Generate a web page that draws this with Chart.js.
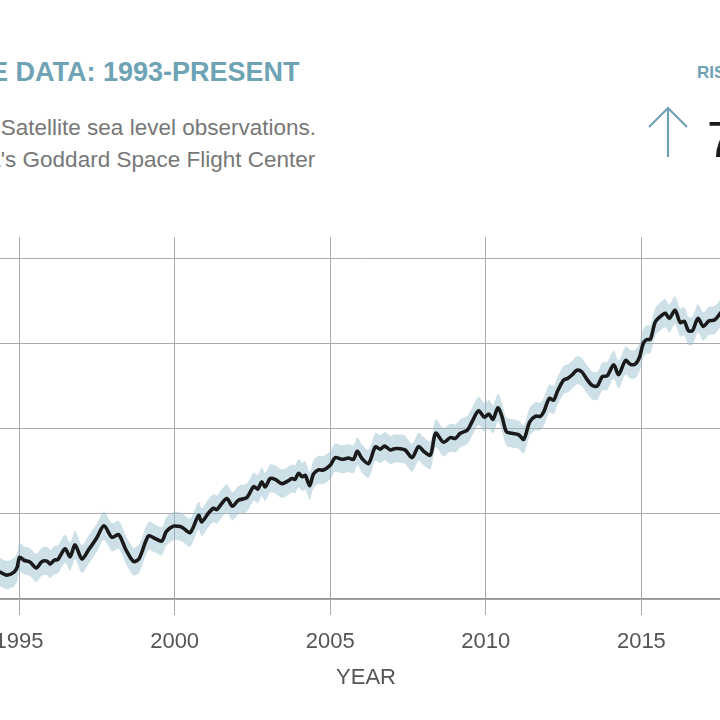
<!DOCTYPE html>
<html>
<head>
<meta charset="utf-8">
<script src="https://cdn.jsdelivr.net/npm/chart.js@4.4.1/dist/chart.umd.min.js"></script>
<style>
  html, body { margin: 0; padding: 0; background: #fff; }
  body { width: 720px; height: 720px; overflow: hidden; position: relative; font-family: "Liberation Sans", Arial, sans-serif; }
  #wrap { position: absolute; left: -200px; top: 0; width: 1040px; height: 720px; }
  .txt { position: absolute; white-space: nowrap; }
  .title { left: -137px; top: 59px; font-size: 27px; line-height: 27px; font-weight: bold; color: #6ea2b5; }
  .sub { left: -133px; font-size: 22.5px; line-height: 22px; color: #777; }
  .rate { left: 697px; top: 64px; font-size: 17px; line-height: 17px; font-weight: bold; color: #6ea2b5; }
  .num { left: 707px; top: 115px; font-size: 50px; line-height: 50px; color: #1a1a1a; }
  svg { position: absolute; left: 640px; top: 100px; }
</style>
</head>
<body>
<div class="txt title">SATELLITE DATA: 1993-PRESENT</div>
<div class="txt sub" style="top:117px">Data source: Satellite sea level observations.</div>
<div class="txt sub" style="top:149px">Credit: NASA's Goddard Space Flight Center</div>
<div class="txt rate">RISE SINCE 1993</div>
<svg width="60" height="62"><path d="M28 8 L28 57 M9 27 L28 8 L47 27" stroke="#6ea2b5" stroke-width="2.2" fill="none"/></svg>
<div class="txt num">74</div>
<div id="wrap"><canvas id="chart"></canvas></div>
<script>
// ── Data ─────────────────────────────────────────────────────────
const years = [
  1993.01, 1993.26, 1993.59, 1993.91, 1994.13, 1994.39, 1994.61, 1994.84, 1994.94, 1995.02,
  1995.16, 1995.35, 1995.55, 1995.74, 1995.90, 1996.00, 1996.13, 1996.25, 1996.48, 1996.64,
  1996.80, 1997.02, 1997.23, 1997.50, 1997.73, 1997.98, 1998.20, 1998.44, 1998.68, 1998.86,
  1999.16, 1999.37, 1999.59, 1999.73, 1999.96, 2000.18, 2000.28, 2000.50, 2000.77, 2000.87,
  2001.09, 2001.25, 2001.36, 2001.52, 2001.68, 2001.86, 2002.05, 2002.32, 2002.54, 2002.67,
  2002.80, 2002.91, 2003.07, 2003.23, 2003.45, 2003.66, 2003.77, 2003.87, 2003.98, 2004.10,
  2004.20, 2004.34, 2004.46, 2004.62, 2004.78, 2005.00, 2005.16, 2005.38, 2005.59, 2005.75,
  2005.87, 2006.02, 2006.23, 2006.45, 2006.61, 2006.75, 2006.93, 2007.06, 2007.25, 2007.41,
  2007.63, 2007.84, 2008.00, 2008.22, 2008.39, 2008.64, 2008.86, 2009.02, 2009.18, 2009.41,
  2009.57, 2009.77, 2009.95, 2010.10, 2010.23, 2010.39, 2010.52, 2010.66, 2010.84, 2011.05,
  2011.22, 2011.41, 2011.59, 2011.75, 2011.86, 2012.04, 2012.18, 2012.31, 2012.50, 2012.63,
  2012.77, 2012.93, 2013.09, 2013.23, 2013.41, 2013.58, 2013.74, 2013.90, 2014.11, 2014.27,
  2014.49, 2014.65, 2014.81, 2014.94, 2015.05, 2015.16, 2015.29, 2015.45, 2015.67, 2015.77,
  2015.90, 2016.08, 2016.25, 2016.38, 2016.51, 2016.64, 2016.82, 2016.99, 2017.17, 2017.35,
  2017.54, 2017.75, 2017.95, 2018.15, 2018.40, 2018.65, 2018.90, 2019.10, 2019.30
];
const seaLevel = [
  -14.6, -13.7, -15.1, -14.4, -13.2, -13.7, -14.4, -13.7, -12.5, -10.2,
  -10.9, -11.3, -12.7, -11.2, -11.1, -11.8, -10.9, -10.7, -8.2, -10.1,
  -7.3, -10.6, -8.5, -5.6, -2.8, -5.5, -4.9, -8.5, -11.2, -10.5,
  -5.2, -5.8, -6.4, -4.2, -2.9, -3.0, -3.4, -4.4, -0.4, -1.9,
  0.2, 1.3, 1.0, 2.5, 3.6, 1.8, 3.2, 3.8, 6.4, 5.8,
  7.5, 6.3, 8.3, 8.1, 7.1, 7.8, 8.3, 8.1, 9.5, 8.7,
  9.0, 6.6, 9.3, 10.3, 10.3, 11.4, 13.2, 12.8, 13.1, 12.8,
  14.7, 13.0, 11.8, 15.7, 15.2, 15.9, 15.0, 15.3, 15.3, 15.0,
  13.2, 15.8, 14.7, 13.8, 18.9, 16.8, 17.9, 17.7, 18.9, 19.7,
  21.8, 24.2, 22.7, 23.4, 22.2, 24.9, 22.8, 19.3, 18.9, 18.6,
  17.5, 21.6, 22.9, 22.9, 23.9, 27.1, 26.7, 28.9, 31.4, 31.8,
  32.6, 33.7, 33.3, 31.8, 30.2, 30.0, 32.2, 32.4, 35.0, 32.7,
  36.0, 35.1, 35.2, 36.8, 39.8, 40.9, 41.0, 45.1, 46.7, 47.1,
  45.9, 47.8, 44.9, 45.2, 43.0, 43.0, 45.9, 44.0, 45.3, 45.5,
  47.1, 49.0, 50.5, 49.5, 51.5, 53.0, 52.0, 54.0, 55.0
];
const spread = 3.3;          // half-width of the uncertainty band (mm)
const xTicks = [1995, 2000, 2005, 2010, 2015];
const yTicks = [-20, 0, 20, 40, 60];

const FONT = '"Liberation Sans", Arial, sans-serif';

const pts = (off) => years.map((x, i) => ({ x, y: seaLevel[i] + off }));

new Chart(document.getElementById('chart'), {
  type: 'line',
  data: {
    datasets: [
      // lower band edge, upper band edge (filled to lower), then the line on top
      { data: pts(-spread), borderWidth: 0, pointRadius: 0, fill: false, tension: 0.3, order: 2 },
      { data: pts(spread), borderWidth: 0, pointRadius: 0, fill: '-1', backgroundColor: 'rgba(150,190,205,0.48)', tension: 0.3, order: 1 },
      { data: pts(0), borderColor: '#1a1a1a', borderWidth: 3.6, pointRadius: 0, fill: false, tension: 0.3, order: 0 }
    ]
  },
  options: {
    responsive: true,
    maintainAspectRatio: false,
    animation: false,
    layout: { padding: { top: 237, left: 0, right: 49.25, bottom: 0 } },
    plugins: { legend: { display: false }, tooltip: { enabled: false } },
    scales: {
      x: {
        type: 'linear', min: 1992.5, max: 2019.8,
        afterBuildTicks: s => { s.ticks = xTicks.map(v => ({ value: v })); },
        afterFit: s => { s.height = 121; },
        ticks: { callback: v => String(v), color: '#555', padding: 14, maxRotation: 0, autoSkip: false, font: { family: FONT, size: 22 } },
        grid: { color: '#aaa', lineWidth: 1, tickLength: 16 },
        border: { color: '#999', width: 1.5 },
        title: { display: true, text: 'YEAR', color: '#555', font: { family: FONT, size: 22 }, padding: { top: 0, bottom: 29 } }
      },
      y: {
        min: -20, max: 65,
        afterBuildTicks: s => { s.ticks = yTicks.map(v => ({ value: v })); },
        afterFit: s => { s.width = 141.25; },
        ticks: { color: '#555', font: { family: FONT, size: 22 } },
        grid: { color: '#aaa', lineWidth: 1 },
        border: { display: false },
        title: { display: true, text: 'SEA HEIGHT VARIATION (mm)', color: '#555', font: { family: FONT, size: 18 } }
      }
    }
  }
});
</script>
</body>
</html>
